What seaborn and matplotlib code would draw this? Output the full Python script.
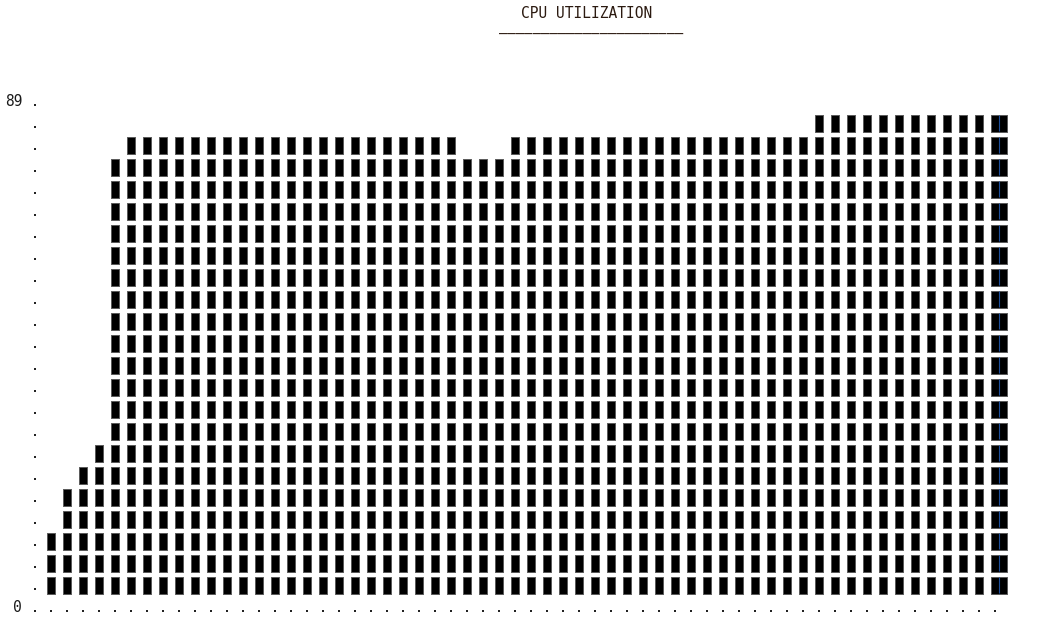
import numpy as np
import pandas as pd
import matplotlib
matplotlib.use('Agg')
import matplotlib.pyplot as plt
from matplotlib.path import Path
import seaborn as sns

# cpu utilization per sample (percent)
cpu_pct = [12, 19, 23, 27, 77] + [81] * 21 + [77] * 3 + [81] * 19 + [85] * 12
samples = list(range(1, len(cpu_pct) + 1))
y_top_label = '89'
y_bottom_label = '0'
title = 'CPU UTILIZATION'

n_rows = 23                      # text rows between 0 and the top label
step = int(y_top_label) / n_rows  # percent per block

sns.set_style('white')
plt.rcParams['font.family'] = ['DejaVu Sans Mono', 'DejaVu Sans']

# one record per block in the column
blocks = []
for s, v in zip(samples, cpu_pct):
    for lev in range(1, int(round(v / step)) + 1):
        blocks.append({'sample': s, 'level': lev})
df = pd.DataFrame(blocks)

fig = plt.figure(figsize=(10.39, 6.31), dpi=100)
ax = fig.add_axes([0, 0, 1, 1])
# character grid: 16 px per column, 22 px per text row
ax.set_xlim(-35 / 16, (1039 - 35) / 16)
ax.set_ylim((607 - 631) / 22, 607 / 22)
ax.axis('off')

# tall block glyph, 8 x 17 px
rect = Path([(-4, -8.5), (4, -8.5), (4, 8.5), (-4, 8.5), (-4, -8.5)],
            [Path.MOVETO, Path.LINETO, Path.LINETO, Path.LINETO, Path.CLOSEPOLY])
wide = Path([(-8, -8.5), (8, -8.5), (8, 8.5), (-8, 8.5), (-8, -8.5)],
            [Path.MOVETO, Path.LINETO, Path.LINETO, Path.LINETO, Path.CLOSEPOLY])
msize = (17 * 0.72) ** 2

body = df[df['sample'] < samples[-1]]
sns.scatterplot(data=body, x='sample', y='level', marker=rect, s=msize,
                color='black', edgecolor='#5a5a5a', linewidth=0.7,
                legend=False, ax=ax)
# last column is drawn as a doubled block
last = df[df['sample'] == samples[-1]].copy()
last['sample'] = last['sample'] + 0.25
sns.scatterplot(data=last, x='sample', y='level', marker=wide, s=msize,
                color='black', edgecolor='#5a5a5a', linewidth=0.7,
                legend=False, ax=ax)
ax.vlines(last['sample'], last['level'] - 0.38, last['level'] + 0.38,
          color='#1f4f9a', linewidth=0.8)

# axis dots
dot_off = 4 / 22
ax.scatter(np.zeros(n_rows + 1), np.arange(n_rows + 1) - dot_off,
           marker='s', s=2.2, color='#222222', linewidths=0)
ax.scatter(samples, np.zeros(len(samples)) - dot_off,
           marker='s', s=2.2, color='#222222', linewidths=0)

# axis labels
ax.text(-0.8, n_rows, y_top_label, ha='right', va='center',
        fontsize=10.5, color='#1a1a1a')
ax.text(-0.8, 0, y_bottom_label, ha='right', va='center',
        fontsize=10.5, color='#1a1a1a')

# title with dashed underline
ax.text(34.5, 27, title, ha='center', va='center', fontsize=10.5,
        color='#2b1a10')
ax.text(34.75, 26, '\u2013' * 22, ha='center', va='center', fontsize=10,
        color='#2b1a10')

fig.savefig('out.png', dpi=100, facecolor='white')
